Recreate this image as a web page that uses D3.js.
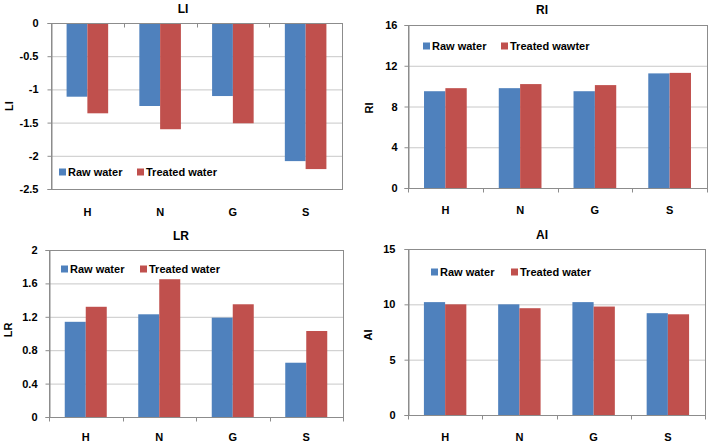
<!DOCTYPE html>
<html>
<head>
<meta charset="utf-8">
<script src="https://cdn.jsdelivr.net/npm/d3@7"></script>
<style>
    body { margin: 0; background: #fff; }
    svg { display: block; }
    text { font-family: "Liberation Sans", Arial, sans-serif; font-weight: bold; fill: #000; }
</style>
</head>
<body>
<div id="chart"></div>
<script>
;(function () {

    // Data
    var categories = ['H', 'N', 'G', 'S'];
    var colors = ['#4f81bd', '#c0504d'];

    var liRaw     = [-1.11, -1.25, -1.10, -2.08];
    var liTreated = [-1.36, -1.60, -1.51, -2.20];
    var riRaw     = [9.5, 9.8, 9.5, 11.25];
    var riTreated = [9.8, 10.2, 10.1, 11.3];
    var lrRaw     = [1.14, 1.23, 1.19, 0.65];
    var lrTreated = [1.32, 1.65, 1.35, 1.03];
    var aiRaw     = [10.2, 10.0, 10.2, 9.2];
    var aiTreated = [10.0, 9.65, 9.8, 9.1];

    var liTicks = [0, -0.5, -1, -1.5, -2, -2.5];
    var riTicks = [0, 4, 8, 12, 16];
    var lrTicks = [0, 0.4, 0.8, 1.2, 1.6, 2];
    var aiTicks = [0, 5, 10, 15];

    var legendNames   = ['Raw water', 'Treated water'];
    var riLegendNames = ['Raw water', 'Treated wawter'];

    var panels = [
        { title: 'LI', values: [liRaw, liTreated], ticks: liTicks, domain: [-2.5, 0], names: legendNames,
          l: 51, r: 342, t: 23, b: 189, titleX: 183, titleY: 9, labelX: 9, labelY: 106, catY: 212,
          tickRight: 38, legendX: [59, 137], legendY: 172 },
        { title: 'RI', values: [riRaw, riTreated], ticks: riTicks, domain: [0, 16], names: riLegendNames,
          l: 408, r: 707, t: 25, b: 188, titleX: 542, titleY: 10, labelX: 369, labelY: 108, catY: 210,
          tickRight: 397, legendX: [423, 501], legendY: 46 },
        { title: 'LR', values: [lrRaw, lrTreated], ticks: lrTicks, domain: [0, 2], names: legendNames,
          l: 49, r: 343, t: 250, b: 417, titleX: 181, titleY: 236, labelX: 8, labelY: 330, catY: 437,
          tickRight: 37, legendX: [61, 140], legendY: 269 },
        { title: 'AI', values: [aiRaw, aiTreated], ticks: aiTicks, domain: [0, 15], names: legendNames,
          l: 408, r: 705, t: 249, b: 415, titleX: 542, titleY: 235, labelX: 368, labelY: 335, catY: 437,
          tickRight: 395, legendX: [431, 511], legendY: 272 }
    ];

    function drawPanel(svg, p) {
        var g = svg.append('g');

        var x = d3.scaleBand().domain(categories).range([p.l, p.r]);
        var y = d3.scaleLinear().domain(p.domain).range([p.b, p.t]);
        var bw = x.bandwidth() / 3.5;

        // gridlines
        g.append('g')
            .attr('transform', 'translate(' + p.l + ',0)')
            .call(d3.axisLeft(y).tickValues(p.ticks).tickSize(-(p.r - p.l)).tickFormat(''))
            .call(function (a) {
                a.select('.domain').remove();
                a.selectAll('line').attr('stroke', '#c8c8c8');
            });

        // plot border
        g.append('rect')
            .attr('x', p.l + 0.5).attr('y', p.t + 0.5)
            .attr('width', p.r - p.l).attr('height', p.b - p.t)
            .attr('fill', 'none').attr('stroke', '#8c8c8c');

        // bars
        p.values.forEach(function (vals, i) {
            g.selectAll('rect.s' + i)
                .data(vals)
                .enter()
                .append('rect')
                .attr('class', 's' + i)
                .attr('x', function (d, j) { return x(categories[j]) + x.bandwidth() / 2 - bw + i * bw; })
                .attr('y', function (d) { return Math.min(y(0), y(d)); })
                .attr('width', bw)
                .attr('height', function (d) { return Math.abs(y(d) - y(0)); })
                .attr('fill', colors[i]);
        });

        // y axis
        g.append('g')
            .attr('transform', 'translate(' + (p.l + 0.5) + ',0)')
            .call(d3.axisLeft(y).tickValues(p.ticks).tickSize(4).tickPadding(p.l - p.tickRight - 4).tickFormat(String))
            .call(function (a) {
                a.select('.domain').attr('stroke', '#8c8c8c');
                a.selectAll('line').attr('stroke', '#8c8c8c');
                a.selectAll('text').attr('font-size', 11).attr('font-family', null);
            });

        // x axis: line at zero, ticks on band edges
        var y0 = Math.round(y(0)) + 0.5;
        var edges = categories.map(function (c) { return x(c); }).concat([p.r]);
        g.append('line')
            .attr('x1', p.l).attr('x2', p.r).attr('y1', y0).attr('y2', y0)
            .attr('stroke', '#8c8c8c');
        g.selectAll('line.xt')
            .data(edges)
            .enter()
            .append('line')
            .attr('class', 'xt')
            .attr('x1', function (d) { return Math.round(d) + 0.5; })
            .attr('x2', function (d) { return Math.round(d) + 0.5; })
            .attr('y1', y0).attr('y2', y0 + 4)
            .attr('stroke', '#8c8c8c');

        g.selectAll('text.cat')
            .data(categories)
            .enter()
            .append('text')
            .attr('class', 'cat')
            .attr('x', function (d) { return x(d) + x.bandwidth() / 2; })
            .attr('y', p.catY)
            .attr('dy', '0.35em')
            .attr('text-anchor', 'middle')
            .attr('font-size', 11)
            .text(function (d) { return d; });

        // title and axis label
        g.append('text')
            .attr('x', p.titleX).attr('y', p.titleY).attr('dy', '0.35em')
            .attr('text-anchor', 'middle').attr('font-size', 12)
            .text(p.title);
        g.append('text')
            .attr('transform', 'translate(' + p.labelX + ',' + p.labelY + ') rotate(-90)')
            .attr('dy', '0.35em')
            .attr('text-anchor', 'middle').attr('font-size', 11)
            .text(p.title);

        // legend
        p.names.forEach(function (name, i) {
            g.append('rect')
                .attr('x', p.legendX[i]).attr('y', p.legendY - 3.5)
                .attr('width', 7).attr('height', 7)
                .attr('fill', colors[i]);
            g.append('text')
                .attr('x', p.legendX[i] + 9).attr('y', p.legendY).attr('dy', '0.35em')
                .attr('font-size', 11)
                .text(name);
        });
    }

    var svg = d3.select('#chart').append('svg')
        .attr('width', 711)
        .attr('height', 444);

    svg.append('rect')
        .attr('width', 711).attr('height', 444)
        .attr('fill', '#fff');

    panels.forEach(function (p) { drawPanel(svg, p); });

})();
</script>
</body>
</html>
